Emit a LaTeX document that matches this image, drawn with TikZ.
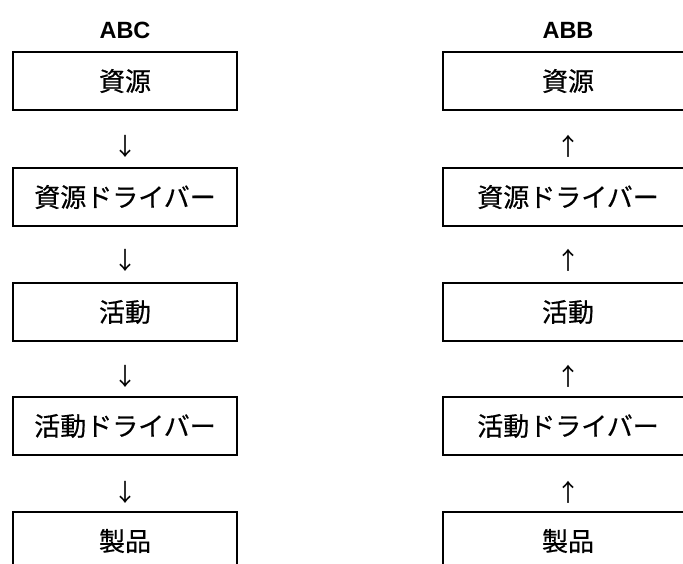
\documentclass[tikz,border=0pt]{standalone}
\usepackage{fontspec}
\setmainfont{Noto Sans CJK JP}
\newfontfamily\cjkbox{Noto Sans CJK JP}[FakeBold=0.5]
\newfontfamily\latinfont{Liberation Sans Bold}
\begin{document}
\begin{tikzpicture}[x=1pt,y=-1pt,
  stepbox/.style={draw=black, line width=1.6pt, minimum height=58pt, inner sep=0pt, font=\cjkbox\fontsize{26}{26}\selectfont},
  leftbox/.style={stepbox, minimum width=224pt},
  rightbox/.style={stepbox, minimum width=250pt},
  arrowglyph/.style={inner sep=0pt, font=\fontsize{24}{24}\selectfont},
  headtext/.style={inner sep=0pt, font=\latinfont\fontsize{23.5}{23.5}\selectfont}]
\useasboundingbox (0,0) rectangle (683,563);
\clip (0,0) rectangle (683,563);
% headings
\node[headtext] (habc) at (125,30) {ABC};
\node[headtext] (habb) at (568,30) {ABB};
% left column
\node[leftbox] (l1) at (125,81) {\raisebox{-2pt}{資源}};
\node[leftbox] (l2) at (125,197) {\raisebox{-2pt}{資源ドライバー}};
\node[leftbox] (l3) at (125,312) {\raisebox{-2pt}{活動}};
\node[leftbox] (l4) at (125,426) {\raisebox{-2pt}{活動ドライバー}};
\node[leftbox] (l5) at (125,541) {\raisebox{-2pt}{製品}};
\node[arrowglyph] (la1) at (125,146) {↓};
\node[arrowglyph] (la2) at (125,260) {↓};
\node[arrowglyph] (la3) at (125,376) {↓};
\node[arrowglyph] (la4) at (125,492) {↓};
% right column
\node[rightbox] (r1) at (568,81) {\raisebox{-2pt}{資源}};
\node[rightbox] (r2) at (568,197) {\raisebox{-2pt}{資源ドライバー}};
\node[rightbox] (r3) at (568,312) {\raisebox{-2pt}{活動}};
\node[rightbox] (r4) at (568,426) {\raisebox{-2pt}{活動ドライバー}};
\node[rightbox] (r5) at (568,541) {\raisebox{-2pt}{製品}};
\node[arrowglyph] (ra1) at (568,146) {↑};
\node[arrowglyph] (ra2) at (568,260) {↑};
\node[arrowglyph] (ra3) at (568,376) {↑};
\node[arrowglyph] (ra4) at (568,492) {↑};
\end{tikzpicture}
\end{document}
